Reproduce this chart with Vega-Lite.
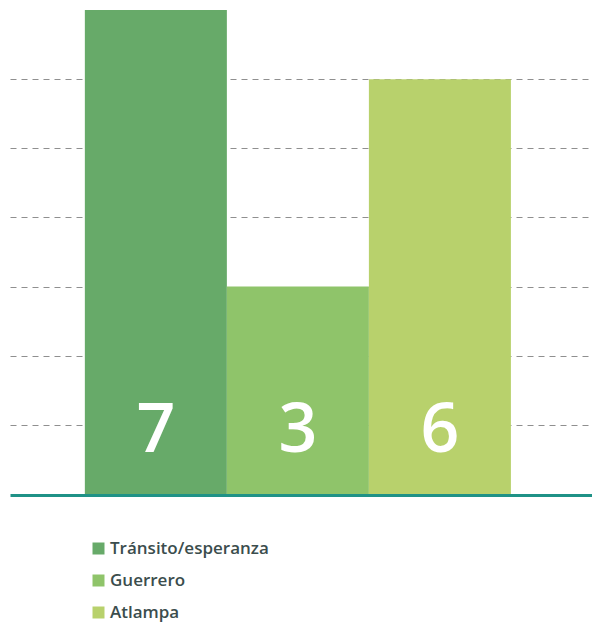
{
  "$schema": "https://vega.github.io/schema/vega-lite/v6.json",
  "width": 582,
  "height": 484,
  "autosize": "none",
  "padding": {"left": 10, "top": 10, "right": 0, "bottom": 128},
  "background": "white",
  "config": {"view": {"stroke": null}},
  "data": {
    "values": [
      {"colonia": "Tránsito/esperanza", "valor": 7},
      {"colonia": "Guerrero", "valor": 3},
      {"colonia": "Atlampa", "valor": 6}
    ]
  },
  "encoding": {
    "x": {
      "field": "colonia",
      "type": "nominal",
      "sort": null,
      "scale": {"paddingInner": 0, "paddingOuter": 0.549, "align": 0.48},
      "axis": {"labels": false, "ticks": false, "title": null, "domainColor": "#1f9287", "domainWidth": 3, "offset": 1}
    }
  },
  "layer": [
    {
      "mark": {"type": "bar"},
      "encoding": {
        "y": {
          "field": "valor",
          "type": "quantitative",
          "scale": {"domain": [0, 7], "nice": false},
          "axis": {"values": [1, 2, 3, 4, 5, 6], "labels": false, "ticks": false, "domain": false, "title": null, "grid": true, "gridDash": [6, 5], "gridColor": "#8f8f8f", "gridWidth": 1}
        },
        "color": {
          "field": "colonia",
          "type": "nominal",
          "sort": null,
          "scale": {"range": ["#67aa69", "#8fc46a", "#b8d16c"]},
          "legend": {
            "title": null,
            "orient": "none",
            "legendX": 80,
            "legendY": 530,
            "symbolType": "square",
            "symbolSize": 144,
            "symbolStrokeWidth": 0,
            "labelFontSize": 17,
            "labelFont": "Open Sans",
            "labelFontWeight": 600,
            "labelColor": "#3b4d4d",
            "labelLimit": 400,
            "rowPadding": 14,
            "labelOffset": 3
          }
        }
      }
    },
    {
      "mark": {"type": "text", "color": "white", "fontSize": 68, "font": "Open Sans", "fontWeight": 600, "baseline": "alphabetic", "align": "center", "dy": -42},
      "encoding": {
        "y": {"datum": 0, "type": "quantitative"},
        "text": {"field": "valor", "type": "quantitative"}
      }
    }
  ]
}
